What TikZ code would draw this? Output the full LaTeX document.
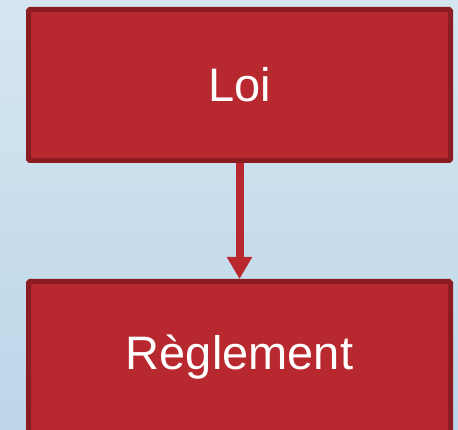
\documentclass[tikz,border=0pt]{standalone}
\usepackage{fontspec}
\setmainfont{Liberation Sans}
\usetikzlibrary{arrows.meta}
\definecolor{boxfill}{HTML}{B8282F}
\definecolor{boxline}{HTML}{8B1C22}
\definecolor{bgtop}{HTML}{D6E6F1}
\definecolor{bgbot}{HTML}{BCD6E8}
\tikzset{
  redbox/.style={draw=boxline, fill=boxfill, line width=5pt, rounded corners=1.5pt,
    minimum width=422pt, minimum height=151pt, inner sep=0pt,
    text=white, font=\fontsize{47pt}{52pt}\selectfont},
  flow/.style={draw=boxfill, line width=8pt, -{Triangle[length=22pt,width=24pt]}}
}
\begin{document}
\begin{tikzpicture}[x=1pt,y=-1pt]
\useasboundingbox (0,0) rectangle (458,430);
\shade[top color=bgtop, bottom color=bgbot] (0,0) rectangle (458,430);
\begin{scope}
\clip (0,0) rectangle (458,430);
\node[redbox] (loi) at (239.5,85) {Loi};
\node[redbox] (reg) at (239.5,357) {Règlement};
\draw[flow] (loi.south) -- (reg.north);
\end{scope}
\end{tikzpicture}
\end{document}
